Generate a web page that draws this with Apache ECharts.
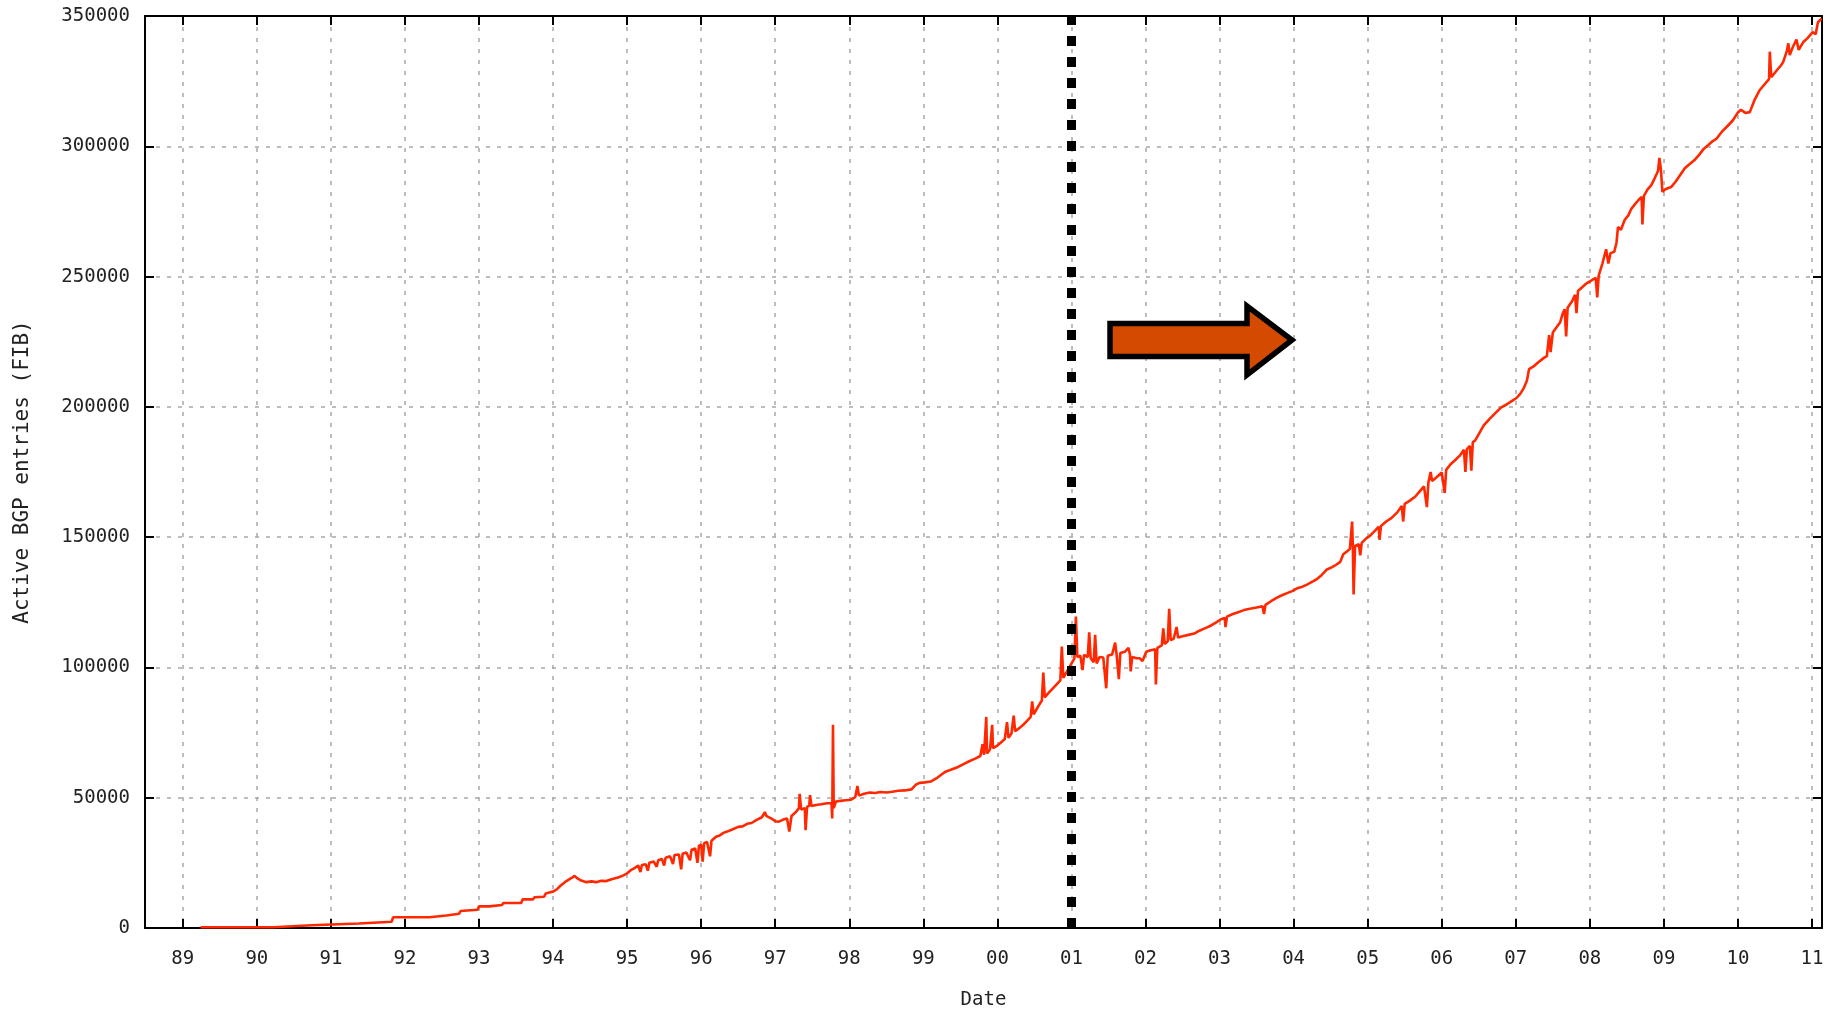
<!DOCTYPE html>
<html>
<head>
<meta charset="utf-8">
<script src="https://cdn.jsdelivr.net/npm/echarts@6/dist/echarts.min.js"></script>
<style>
html,body{margin:0;padding:0;background:#fff;}
#chart{width:1837px;height:1011px;}
</style>
</head>
<body>
<div id="chart"></div>
<script>
// ---- data ----
const xTickYears = [1989,1990,1991,1992,1993,1994,1995,1996,1997,1998,1999,2000,2001,2002,2003,2004,2005,2006,2007,2008,2009,2010,2011];
const xTickLabels = ['89','90','91','92','93','94','95','96','97','98','99','00','01','02','03','04','05','06','07','08','09','10','11'];
const markerYear = 2001;

const years = [
1989.24,1990.23,1990.25,1990.74,1990.76,1991.38,1991.40,1991.82,1991.84,1992.33,1992.35,1992.56,1992.58,1992.73,1992.75,1992.98,1993.00,1993.14,1993.16,1993.31,1993.33,1993.57,1993.59,1993.73,1993.75,1993.88,1993.90,1994.00,1994.05,1994.10,1994.18,1994.25,1994.29,1994.33,1994.38,1994.45,1994.52,1994.58,1994.65,1994.72,1994.80,1994.88,1994.95,
1995.00,1995.05,1995.10,1995.15,1995.18,1995.20,1995.25,1995.28,1995.30,1995.36,1995.40,1995.42,1995.47,1995.50,1995.52,1995.58,1995.62,1995.64,1995.70,1995.73,1995.75,1995.80,1995.85,1995.87,1995.92,1995.95,1995.97,
1996.00,1996.02,1996.04,1996.08,1996.12,1996.14,1996.20,1996.25,1996.30,1996.35,1996.42,1996.50,1996.56,1996.62,1996.68,1996.75,1996.82,1996.86,1996.88,1996.95,
1997.00,1997.05,1997.10,1997.16,1997.19,1997.22,1997.28,1997.32,1997.33,1997.35,1997.40,1997.41,1997.43,1997.46,1997.47,1997.49,1997.55,1997.62,1997.70,1997.76,1997.77,1997.78,1997.79,1997.82,1997.88,1997.95,
1998.02,1998.08,1998.11,1998.13,1998.20,1998.28,1998.35,1998.42,1998.50,1998.58,1998.66,1998.75,1998.84,1998.90,1998.95,
1999.02,1999.10,1999.18,1999.25,1999.30,1999.38,1999.47,1999.55,1999.62,1999.70,1999.77,1999.80,1999.82,1999.85,1999.86,1999.90,1999.93,1999.94,
2000.00,2000.06,2000.10,2000.13,2000.15,2000.19,2000.22,2000.24,2000.30,2000.35,2000.40,2000.45,2000.47,2000.49,2000.55,2000.60,2000.62,2000.64,2000.70,2000.75,2000.80,2000.85,2000.87,2000.89,2000.95,
2001.00,2001.04,2001.06,2001.08,2001.12,2001.15,2001.17,2001.22,2001.24,2001.26,2001.30,2001.32,2001.34,2001.38,2001.43,2001.47,2001.49,2001.55,2001.59,2001.61,2001.64,2001.66,2001.72,2001.77,2001.79,2001.80,2001.82,2001.88,2001.92,2001.96,
2002.01,2002.06,2002.13,2002.14,2002.16,2002.22,2002.24,2002.26,2002.30,2002.32,2002.34,2002.38,2002.42,2002.44,2002.50,2002.58,2002.66,2002.72,2002.80,2002.88,2002.95,
2003.02,2003.07,2003.08,2003.10,2003.18,2003.25,2003.33,2003.41,2003.50,2003.58,2003.60,2003.62,2003.70,2003.77,2003.85,2003.92,2003.98,
2004.06,2004.12,2004.18,2004.26,2004.32,2004.38,2004.45,2004.52,2004.58,2004.63,2004.67,2004.72,2004.76,2004.79,2004.80,2004.81,2004.83,2004.88,2004.90,2004.92,2004.98,
2005.03,2005.10,2005.15,2005.16,2005.18,2005.25,2005.32,2005.40,2005.46,2005.48,2005.50,2005.57,2005.64,2005.70,2005.76,2005.80,2005.82,2005.85,2005.87,2005.93,
2006.00,2006.04,2006.06,2006.12,2006.18,2006.25,2006.30,2006.32,2006.34,2006.38,2006.40,2006.42,2006.45,2006.50,2006.57,2006.65,2006.72,2006.80,2006.88,2006.95,
2007.01,2007.06,2007.11,2007.15,2007.18,2007.24,2007.30,2007.38,2007.42,2007.45,2007.47,2007.50,2007.56,2007.60,2007.63,2007.66,2007.68,2007.70,2007.76,2007.80,2007.82,2007.84,2007.90,2007.96,
2008.00,2008.05,2008.08,2008.10,2008.12,2008.17,2008.22,2008.25,2008.28,2008.33,2008.36,2008.38,2008.42,2008.47,2008.52,2008.56,2008.60,2008.66,2008.70,2008.71,2008.73,2008.78,2008.83,2008.88,2008.92,2008.94,2008.96,2008.98,
2009.02,2009.06,2009.10,2009.16,2009.22,2009.28,2009.34,2009.41,2009.47,2009.54,2009.60,2009.66,2009.71,2009.78,2009.85,2009.93,
2010.00,2010.04,2010.10,2010.16,2010.22,2010.29,2010.36,2010.42,2010.43,2010.45,2010.52,2010.58,2010.61,2010.66,2010.68,2010.70,2010.74,2010.79,2010.82,2010.88,2010.94,
2011.01,2011.05,2011.08,2011.13
];

const entries = [
300,300,1050,1050,1700,1700,2400,2400,4100,4100,4800,4800,5450,5450,6500,7000,8300,8300,8800,8800,9600,9600,11000,11000,11800,12000,13200,14000,14800,16200,18000,19200,20000,19000,18200,17600,17900,17600,18100,18000,18800,19400,20200,
21000,22200,23000,24000,21500,24200,24500,22000,25000,25500,23500,26000,26500,24000,27000,27500,24500,28000,28200,22500,28500,29000,26000,30000,30500,25000,31500,
32000,25500,32500,33000,27500,33500,35000,35500,36500,37000,37800,38800,39000,40000,40300,41500,42500,44500,43000,42000,
41000,40800,41500,42000,37000,43000,44500,46000,51500,45500,46000,37500,46500,47000,51000,46800,47200,47500,47900,48000,42000,78000,46000,48500,48800,49000,
49200,50200,54500,50800,51500,52000,51800,52200,52000,52300,52700,52800,53200,55000,55700,
55900,56200,57500,59000,60000,60800,61800,63000,64000,65000,66000,70500,66500,81000,67000,68500,78000,69000,
70000,71500,72500,79000,73000,74600,81500,75500,76800,78000,79500,81000,87000,82000,85000,87300,98000,88500,90500,92000,93500,95000,108000,96000,99000,
101500,103500,119500,104000,104500,99000,104800,104000,113500,103500,102000,112500,101500,104000,103800,92000,104500,105000,109500,105000,95500,105500,106000,107500,105000,98500,104000,103500,103500,102500,
106000,106500,107000,93500,107500,108500,115000,109000,110000,122500,110500,111000,115500,111500,112000,112500,113000,114000,115000,116000,117200,
118500,119000,115500,119500,120500,121200,122000,122500,123000,123500,120500,124000,125500,126700,127800,128600,129300,
130500,131000,131800,133000,134000,135500,137600,138500,139500,140500,143400,144500,145500,156000,146000,128000,146600,147300,143000,147800,149500,
150500,152500,154000,149000,154300,156000,157300,159500,162000,156000,162800,164000,165500,167500,169500,161500,171000,175000,171500,173000,
174800,167000,175800,178000,179500,181500,183500,175000,183800,185000,175500,186500,187000,189500,193000,195500,197500,199700,201000,202300,
203400,205000,207300,210000,214500,215500,217000,218800,219500,227500,221000,228500,230900,232500,235500,237500,227000,238000,240500,243000,236000,244500,246000,247500,
248100,249000,249500,242000,250500,255000,260500,255000,259000,259500,263000,269000,268000,271700,273500,276000,277400,279500,280600,270000,281000,283500,285100,288000,290500,295500,291000,282500,
283500,284000,284400,286500,289000,291500,293000,294600,296500,299100,300500,302000,302900,305500,307500,309900,
313000,314000,312800,313100,317500,321400,323800,325800,336300,326500,329000,331000,332300,336500,339500,335000,338000,341000,337000,339900,341500,
343800,343000,347600,349000
];

// ---- chart ----
const seriesData = years.map((y, i) => [y, entries[i]]);
const FONT = 'DejaVu Sans Mono';
const gridLine = { show: true, lineStyle: { color: '#a8a8a8', width: 1.5, type: [4, 7] } };

const chart = echarts.init(document.getElementById('chart'), null, { renderer: 'canvas' });
chart.setOption({
  animation: false,
  backgroundColor: '#fff',
  grid: { left: 145, top: 16, right: 15, bottom: 83, containLabel: false, outerBoundsMode: 'none' },
  xAxis: [
    {
      type: 'value', position: 'bottom', min: 1988.49, max: 2011.135,
      name: 'Date', nameLocation: 'middle', nameGap: 63,
      nameTextStyle: { fontFamily: FONT, fontSize: 19, color: '#222' },
      axisLine: { show: true, onZero: false, lineStyle: { color: '#000', width: 2 } },
      axisTick: { show: true, inside: true, length: 9, customValues: xTickYears, lineStyle: { color: '#000', width: 2 } },
      axisLabel: { show: true, margin: 22, customValues: xTickYears, fontFamily: FONT, fontSize: 19, color: '#222',
        formatter: v => xTickLabels[xTickYears.indexOf(Math.round(v))] },
      splitLine: gridLine
    },
    {
      type: 'value', position: 'top', min: 1988.49, max: 2011.135,
      axisLine: { show: true, onZero: false, lineStyle: { color: '#000', width: 2 } },
      axisTick: { show: true, inside: true, length: 9, customValues: xTickYears, lineStyle: { color: '#000', width: 2 } },
      axisLabel: { show: false },
      splitLine: { show: false }
    }
  ],
  yAxis: [
    {
      type: 'value', position: 'left', min: 0, max: 350000, interval: 50000,
      name: 'Active BGP entries (FIB)', nameLocation: 'middle', nameGap: 112,
      nameTextStyle: { fontFamily: FONT, fontSize: 21, color: '#222' },
      axisLine: { show: true, onZero: false, lineStyle: { color: '#000', width: 2 } },
      axisTick: { show: true, inside: true, length: 9, lineStyle: { color: '#000', width: 2 } },
      axisLabel: { show: true, margin: 15, fontFamily: FONT, fontSize: 19, color: '#222',
        formatter: v => String(v) },
      splitLine: gridLine
    },
    {
      type: 'value', position: 'right', min: 0, max: 350000, interval: 50000,
      axisLine: { show: true, onZero: false, lineStyle: { color: '#000', width: 2 } },
      axisTick: { show: true, inside: true, length: 9, lineStyle: { color: '#000', width: 2 } },
      axisLabel: { show: false },
      splitLine: { show: false }
    }
  ],
  series: [{
    type: 'line',
    xAxisIndex: 0, yAxisIndex: 0,
    data: seriesData,
    showSymbol: false,
    symbol: 'none',
    lineStyle: { color: '#ff2800', width: 2.6 },
    silent: true,
    z: 3,
    markLine: {
      silent: true,
      symbol: ['none', 'none'],
      label: { show: false },
      lineStyle: { color: '#000', width: 9, type: [10, 11], opacity: 1 },
      data: [{ xAxis: markerYear }],
      z: 5
    }
  }],
  graphic: [{
    type: 'polygon',
    z: 100,
    shape: { points: [[1110, 323.5], [1247, 323.5], [1247, 306], [1292, 340], [1247, 375], [1247, 356.5], [1110, 356.5]] },
    style: { fill: '#d44a00', stroke: '#000', lineWidth: 5.5, lineJoin: 'miter' }
  }]
});
</script>
</body>
</html>
